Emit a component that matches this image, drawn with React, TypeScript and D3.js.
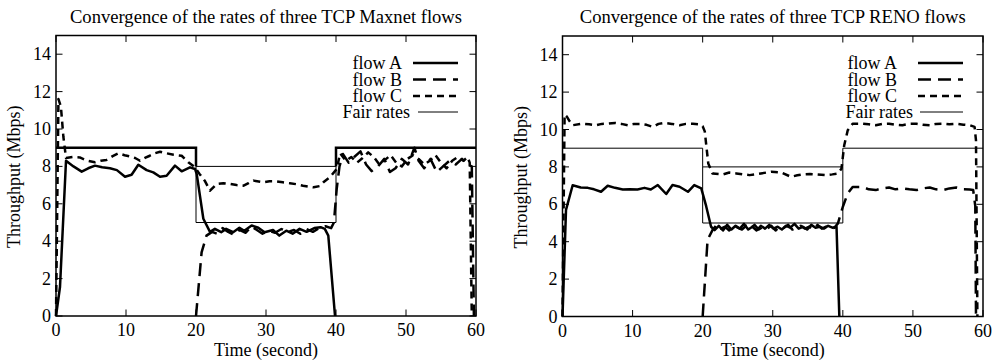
import React from "react";
import * as d3 from "d3";

type P = [number, number];

// ---------- data ----------
const xTicks = [0, 10, 20, 30, 40, 50, 60];
const yTicks = [0, 2, 4, 6, 8, 10, 12, 14];
const legendLabels = ["flow A", "flow B", "flow C", "Fair rates"];
const titles = [
  "Convergence of the rates of three TCP Maxnet flows",
  "Convergence of the rates of three TCP RENO flows",
];

const maxnetA: P[] = [[0,0],[0.57,1.55],[1.43,8.3],[2.5,8.0],[3.67,7.72],[4.6,7.9],[5.57,8.04],[6.6,7.95],[7.71,7.9],[8.7,7.8],[9.86,7.45],[10.8,7.55],[11.76,8.09],[12.95,7.8],[13.9,7.68],[14.86,7.45],[15.8,7.5],[17,8.04],[17.95,7.74],[19.14,7.95],[19.86,7.86],[20.1,7.6],[21.05,5.2],[22,4.5],[22.7,4.66],[23.6,4.48],[24.3,4.66],[25.3,4.48],[26.2,4.72],[26.9,4.56],[27.95,4.84],[28.9,4.72],[29.8,4.48],[31,4.6],[31.9,4.3],[32.9,4.56],[33.8,4.4],[34.8,4.66],[35.8,4.5],[36.9,4.7],[37.8,4.75],[38.4,4.66],[38.9,4.3],[39.86,0]];
const maxnetB: P[] = [[20,0],[20.8,3.4],[21.5,4.3],[22.3,4.5],[23,4.4],[23.8,4.7],[24.6,4.5],[25.4,4.35],[26.2,4.6],[27.1,4.45],[27.9,4.8],[28.7,4.6],[29.5,4.4],[30.4,4.55],[31.3,4.45],[32.2,4.65],[33.1,4.5],[34,4.6],[34.9,4.4],[35.8,4.65],[36.7,4.5],[37.6,4.7],[38.5,4.8],[39.3,4.7],[39.7,5.0],[40.1,6.8],[40.5,8.0],[41,8.66],[41.8,8.2],[42.6,8.5],[43.5,8.8],[44.3,8.1],[45.1,7.75],[46,8.0],[46.9,8.4],[47.7,7.7],[48.5,7.9],[49.4,8.4],[50.3,8.1],[51.2,9.0],[51.8,8.3],[52.6,7.9],[53.5,8.4],[54.4,7.7],[55.3,8.0],[56.2,8.3],[57.1,8.1],[58,8.4],[58.8,8.1],[59.4,8.0],[59.7,0]];
const maxnetC: P[] = [[0,0],[0.35,11.6],[0.7,11.2],[1.05,9.6],[1.43,8.45],[2.4,8.5],[3.4,8.48],[4.5,8.3],[5.57,8.22],[6.4,8.3],[7.2,8.34],[8.1,8.55],[8.9,8.7],[9.8,8.6],[10.6,8.53],[11.3,8.45],[12,8.3],[12.7,8.45],[13.4,8.57],[14.1,8.7],[14.86,8.78],[15.8,8.7],[16.8,8.62],[17.95,8.57],[18.9,8.22],[19.86,7.95],[20.5,7.6],[21.3,7.2],[22,6.7],[22.95,7.06],[23.9,7.1],[24.86,7.06],[25.8,7.0],[26.8,6.97],[27.5,7.1],[28.2,7.24],[29.6,7.15],[30.5,7.2],[31.5,7.2],[32.4,7.15],[33.4,7.1],[34.3,7.05],[35.3,6.97],[36.8,6.88],[37.7,6.95],[38.2,7.15],[39.1,7.41],[40.1,7.86],[40.6,8.7],[41.4,8.3],[42.2,8.5],[43.0,8.2],[43.8,8.45],[44.6,8.75],[45.4,8.5],[46.2,8.1],[47.0,8.35],[47.8,8.6],[48.6,8.2],[49.4,8.0],[50.2,8.4],[51.0,8.6],[51.8,8.4],[52.6,8.1],[53.4,8.3],[54.2,8.6],[55.0,8.2],[55.8,7.9],[56.6,8.3],[57.4,8.5],[58.2,8.3],[58.8,8.5],[59.1,8.2],[59.4,0]];

const renoA: P[] = [[0,0],[0.5,5.7],[1.45,7.02],[2.6,6.9],[3.6,6.88],[4.5,6.8],[5.5,6.67],[6.45,6.99],[7.5,6.88],[8.6,6.79],[9.6,6.8],[10.7,6.79],[11.7,6.88],[12.6,6.79],[13.6,7.03],[14.8,6.55],[15.7,7.03],[16.7,6.94],[17.9,6.67],[18.8,7.03],[19.8,6.85],[20.5,5.9],[21.2,4.8],[21.7,4.62],[22.3,4.85],[22.9,4.6],[23.5,4.9],[24.1,4.65],[24.7,4.85],[25.3,4.7],[25.9,4.95],[26.5,4.65],[27.1,4.8],[27.7,4.6],[28.3,4.85],[28.9,4.7],[29.5,4.9],[30.1,4.7],[30.7,4.8],[31.3,4.65],[31.9,4.85],[32.5,4.75],[33.1,4.95],[33.7,4.7],[34.3,4.8],[34.9,4.65],[35.5,4.9],[36.1,4.75],[36.7,4.8],[37.3,4.7],[37.9,4.85],[38.5,4.75],[39.1,4.8],[39.5,0]];
const renoB: P[] = [[20,0],[20.7,4.1],[21.4,4.62],[22,4.9],[22.6,4.7],[23.2,4.8],[23.8,4.6],[24.4,4.9],[25,4.75],[25.6,4.65],[26.2,4.85],[26.8,4.7],[27.4,4.9],[28,4.65],[28.6,4.8],[29.2,4.7],[29.8,4.85],[30.4,4.6],[31,4.8],[31.6,4.75],[32.2,4.9],[32.8,4.65],[33.4,4.75],[34,4.85],[34.6,4.7],[35.2,4.8],[35.8,4.65],[36.4,4.9],[37,4.7],[37.6,4.8],[38.2,4.7],[38.8,4.75],[39.3,4.98],[40,5.87],[40.7,6.58],[41.4,6.93],[42.8,6.93],[43.7,6.8],[44.7,6.76],[45.6,6.85],[46.6,6.9],[47.5,6.8],[48.5,6.85],[49.5,6.8],[50.5,6.76],[51.4,6.85],[52.4,6.9],[53.3,6.8],[54.3,6.76],[55.2,6.85],[56.2,6.9],[57.2,6.8],[58.1,6.79],[58.6,6.76],[58.9,5.9],[59.0,0]];
const renoC: P[] = [[0,0],[0.3,10.8],[0.6,10.7],[1,10.45],[1.45,10.23],[2.9,10.31],[3.8,10.28],[4.8,10.23],[5.6,10.3],[6.45,10.31],[7.5,10.35],[8.4,10.3],[9.3,10.23],[10.2,10.3],[11.1,10.3],[12,10.25],[12.9,10.14],[13.7,10.3],[14.5,10.35],[15.6,10.3],[16.7,10.23],[17.6,10.3],[18.6,10.31],[19.5,10.28],[20,10.17],[20.3,9.9],[20.8,8.18],[21.4,7.65],[22.9,7.6],[23.8,7.7],[24.8,7.65],[25.7,7.6],[26.7,7.56],[27.5,7.6],[28.3,7.65],[29.8,7.74],[31.2,7.7],[32.6,7.47],[33.5,7.55],[34.3,7.6],[35.3,7.62],[36.2,7.6],[37.6,7.56],[38.5,7.6],[39.3,7.65],[39.8,7.9],[40.2,9.16],[40.7,9.96],[41.4,10.31],[42.8,10.31],[43.7,10.28],[44.7,10.23],[45.6,10.3],[46.6,10.31],[47.5,10.26],[48.5,10.23],[49.5,10.3],[50.5,10.31],[51.4,10.25],[52.4,10.23],[53.3,10.3],[54.3,10.31],[55.2,10.28],[56.2,10.31],[57.2,10.26],[58.1,10.23],[58.8,10.14],[59.0,9.42],[59.2,0]];

// fair rates (NaN breaks a segment)
const fairHigh: P[] = [[0,9],[20,9],[20,8],[NaN,NaN],[40,8],[40,9],[60,9]];
const fairMid: P[] = [[20,8],[40,8]];
const fairLow: P[] = [[20,8],[20,5],[40,5],[40,8]];

const FONT = "'Liberation Serif', 'Times New Roman', serif";

type ChartProps = {
  x0: number; x1: number; y0: number; y1: number;
  title: string; a: P[]; b: P[]; c: P[];
  boldFair: boolean;
  yLabelX: number; tickOff: number;
  legTextX: number; legFairX: number; legLineX0: number; legFairLineX0: number; legLineX1: number;
};

const Chart = (p: ChartProps) => {
  const x = d3.scaleLinear().domain([0, 60]).range([p.x0, p.x1]);
  const y = d3.scaleLinear().domain([0, 15]).range([p.y0, p.y1]);
  const line = d3.line<P>().defined((d) => !isNaN(d[0])).x((d) => x(d[0])).y((d) => y(d[1]));
  const tl = 6.5;
  const legY = [63, 79.5, 96, 112];
  const styles = [
    { w: 2.5, dash: "none" },
    { w: 2.5, dash: "13,7" },
    { w: 2.5, dash: "7,5" },
  ];
  return (
    <g>
      <text x={(p.x0 + p.x1) / 2} y={23} textAnchor="middle" fontSize={18.6} fontFamily={FONT}>{p.title}</text>
      {/* fair rates */}
      <path d={line(fairHigh) || ""} fill="none" stroke="#000" strokeWidth={p.boldFair ? 2.5 : 1} />
      <path d={line(fairMid) || ""} fill="none" stroke="#000" strokeWidth={1} />
      <path d={line(fairLow) || ""} fill="none" stroke="#000" strokeWidth={1} />
      {[p.a, p.b, p.c].map((s, i) => (
        <path key={i} d={line(s) || ""} fill="none" stroke="#000" strokeWidth={styles[i].w}
          strokeDasharray={styles[i].dash} strokeLinejoin="round" />
      ))}
      {/* box */}
      <rect x={p.x0} y={p.y1} width={p.x1 - p.x0} height={p.y0 - p.y1} fill="none" stroke="#000" strokeWidth={1.5} />
      {xTicks.map((t) => (
        <g key={"x" + t}>
          <line x1={x(t)} x2={x(t)} y1={p.y0} y2={p.y0 - tl} stroke="#000" strokeWidth={1} />
          <line x1={x(t)} x2={x(t)} y1={p.y1} y2={p.y1 + tl} stroke="#000" strokeWidth={1} />
          <text x={x(t)} y={p.y0 + 20} textAnchor="middle" fontSize={18} fontFamily={FONT}>{t}</text>
        </g>
      ))}
      {yTicks.map((t) => (
        <g key={"y" + t}>
          <line x1={p.x0} x2={p.x0 + tl} y1={y(t)} y2={y(t)} stroke="#000" strokeWidth={1} />
          <line x1={p.x1} x2={p.x1 - tl} y1={y(t)} y2={y(t)} stroke="#000" strokeWidth={1} />
          <text x={p.x0 - p.tickOff} y={y(t) + 6} textAnchor="end" fontSize={18} fontFamily={FONT}>{t}</text>
        </g>
      ))}
      <text x={(p.x0 + p.x1) / 2} y={356} textAnchor="middle" fontSize={18} fontFamily={FONT}>Time (second)</text>
      <text transform={`translate(${p.yLabelX},${(p.y0 + p.y1) / 2 + 1}) rotate(-90)`} textAnchor="middle" fontSize={18} fontFamily={FONT}>Throughput (Mbps)</text>
      {/* legend */}
      {legendLabels.map((lab, i) => (
        <g key={lab}>
          <text x={i === 3 ? p.legFairX : p.legTextX} y={legY[i] + 6} textAnchor="end" fontSize={18} fontFamily={FONT}>{lab}</text>
          <line x1={i === 3 ? p.legFairLineX0 : p.legLineX0} x2={p.legLineX1} y1={legY[i]} y2={legY[i]}
            stroke="#000" strokeWidth={i === 3 ? 1 : 2.5} strokeDasharray={i === 3 ? "none" : styles[i].dash} />
        </g>
      ))}
    </g>
  );
};

export default function App() {
  return (
    <svg width={998} height={362} style={{ position: "absolute", left: 0, top: 0, background: "#fff" }}>
      <rect width={998} height={362} fill="#fff" />
      <Chart x0={56} x1={476} y0={316} y1={35.5} title={titles[0]} a={maxnetA} b={maxnetB} c={maxnetC}
        boldFair={true} yLabelX={20} tickOff={5}
        legTextX={402} legFairX={410} legLineX0={413} legFairLineX0={418} legLineX1={458} />
      <Chart x0={562.5} x1={983} y0={316.5} y1={36} title={titles[1]} a={renoA} b={renoB} c={renoC}
        boldFair={false} yLabelX={527} tickOff={5}
        legTextX={897} legFairX={913} legLineX0={918} legFairLineX0={920} legLineX1={963} />
    </svg>
  );
}
